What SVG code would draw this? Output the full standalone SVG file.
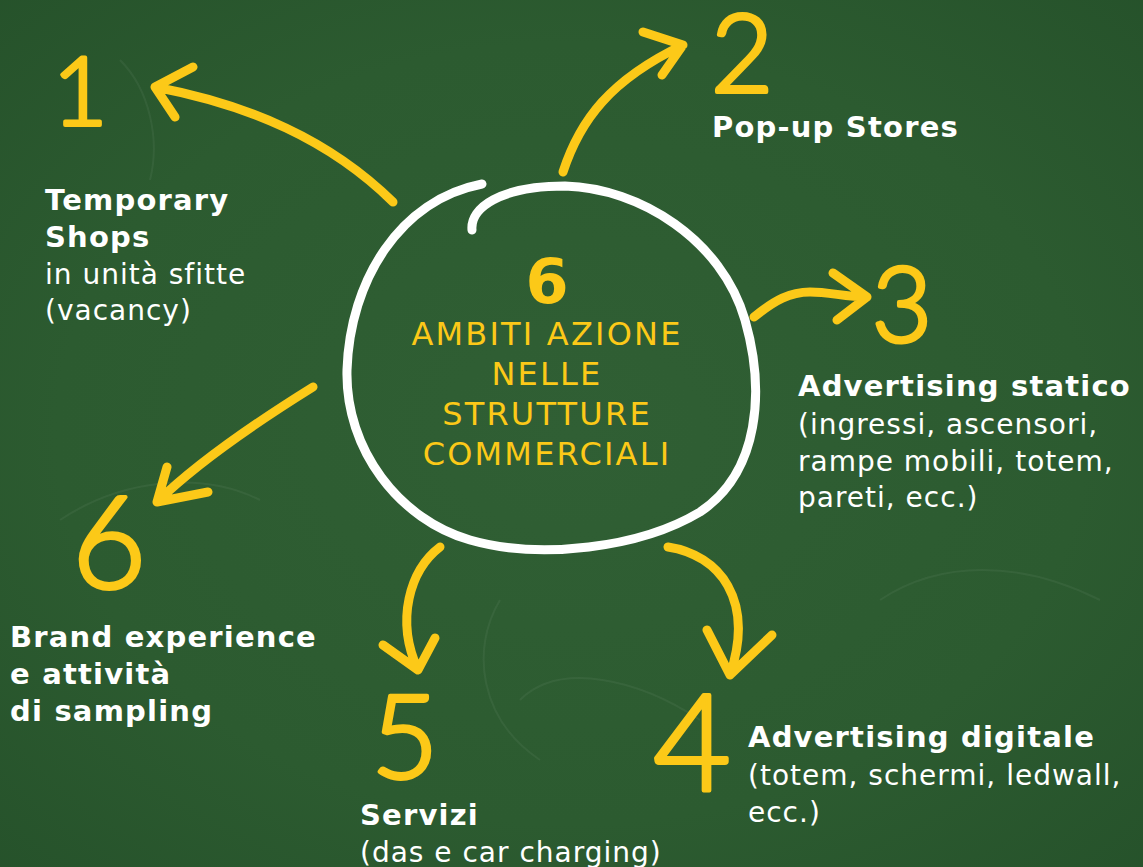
<svg xmlns="http://www.w3.org/2000/svg" width="1143" height="867" viewBox="0 0 1143 867">
<defs>
<radialGradient id="bg" cx="50%" cy="50%" r="75%">
<stop offset="0" stop-color="#305f34"/>
<stop offset="0.6" stop-color="#2c5b30"/>
<stop offset="1" stop-color="#25512a"/>
</radialGradient>
<style>
.arrow{fill:none;stroke:#fcc918;stroke-width:9;stroke-linecap:round;stroke-linejoin:round}
.loop{fill:none;stroke:#ffffff;stroke-width:9;stroke-linecap:round}
.num{font-family:Lato,"DejaVu Sans",sans-serif;font-weight:300;fill:#fcc918;stroke:#fcc918;stroke-width:4;stroke-linejoin:round;text-anchor:middle}
.t{font-family:"DejaVu Sans",sans-serif;fill:#ffffff;font-size:28px;letter-spacing:1px}
.b{font-weight:bold;font-size:29px;letter-spacing:1.2px}
.c{font-family:"DejaVu Sans",sans-serif;fill:#fcc918;text-anchor:middle;font-size:32px;letter-spacing:2.2px}
.chalk{fill:none;stroke:#ffffff;stroke-opacity:0.05;stroke-width:2}
</style>
</defs>
<rect width="1143" height="867" fill="url(#bg)"/>
<g id="chalk">
<path class="chalk" d="M500 600 C470 650 480 720 540 760"/>
<path class="chalk" d="M520 700 C560 660 640 680 700 720"/>
<path class="chalk" d="M60 520 C120 480 200 470 260 500"/>
<path class="chalk" d="M880 600 C940 560 1020 560 1100 600"/>
<path class="chalk" d="M120 60 C150 90 160 140 150 180"/>
</g>

<g id="connectors">
<path class="arrow" d="M393 202 C330 140 250 105 155 87 M193 67 L155 87 L175 117"/>
<path class="arrow" d="M563 172 C580 120 610 80 683 45 M643 32 L683 45 L662 75"/>
<path class="arrow" d="M754 317 C775 300 790 292 810 292 C830 292 845 297 867 297 M833 273 L867 297 L837 320"/>
<path class="arrow" d="M313 387 C260 420 200 460 157 502 M167 467 L157 502 L208 492"/>
<path class="arrow" d="M440 547 C410 570 395 620 418 670 M383 645 L418 670 L435 638"/>
<path class="arrow" d="M668 547 C720 555 755 600 730 675 M707 630 L730 675 L772 635"/>
</g>

<g id="center">
<path class="loop" d="M482 184 C400 200 350 280 347 370 C345 450 400 520 470 540 C540 560 640 548 700 512 C760 472 765 390 745 320 C722 240 640 188 565 186 C500 186 470 208 472 230"/>
<text x="547" y="303" style="font-family:'DejaVu Sans',sans-serif;fill:#fcc918;font-weight:bold;font-size:62px;text-anchor:middle">6</text>
<text class="c" x="547" y="345">AMBITI AZIONE</text>
<text class="c" x="547" y="385">NELLE</text>
<text class="c" x="547" y="425">STRUTTURE</text>
<text class="c" x="547" y="465">COMMERCIALI</text>
</g>

<g id="n1">
<text class="num" x="80" y="125" font-size="95">1</text>
<text class="t" x="45" y="210"><tspan class="b">Temporary</tspan><tspan class="b" x="45" y="247">Shops</tspan><tspan x="45" y="284">in unità sfitte</tspan><tspan x="45" y="320">(vacancy)</tspan></text>
</g>

<g id="n2">
<text class="num" x="742" y="92" font-size="108">2</text>
<text class="t b" x="712" y="137">Pop-up Stores</text>
</g>

<g id="n3">
<text class="num" x="902" y="342" font-size="104">3</text>
<text class="t" x="798" y="396"><tspan class="b">Advertising statico</tspan><tspan x="798" y="434">(ingressi, ascensori,</tspan><tspan x="798" y="471">rampe mobili, totem,</tspan><tspan x="798" y="507">pareti, ecc.)</tspan></text>
</g>

<g id="n4">
<text class="num" x="692" y="790" font-size="134">4</text>
<text class="t" x="748" y="747"><tspan class="b">Advertising digitale</tspan><tspan x="748" y="785">(totem, schermi, ledwall,</tspan><tspan x="748" y="822">ecc.)</tspan></text>
</g>

<g id="n5">
<text class="num" x="405" y="778" font-size="116">5</text>
<text class="t" x="360" y="825"><tspan class="b">Servizi</tspan><tspan x="360" y="862">(das e car charging)</tspan></text>
</g>

<g id="n6">
<text class="num" x="109" y="588" font-size="128">6</text>
<text class="t b" x="10" y="647">Brand experience<tspan x="10" y="684">e attività</tspan><tspan x="10" y="721">di sampling</tspan></text>
</g>
</svg>
